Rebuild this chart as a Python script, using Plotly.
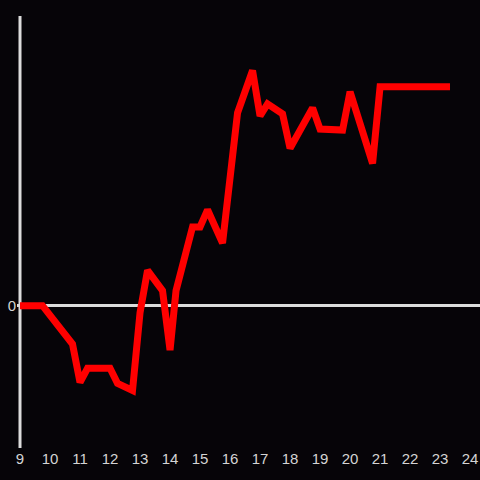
import plotly.graph_objects as go

# time of day (hours) and value
hours = [9.0, 9.75, 10.75, 11.0, 11.25, 12.0, 12.25, 12.75, 13.0, 13.25, 13.75, 14.0,
         14.2, 14.75, 15.0, 15.25, 15.75, 16.25, 16.75, 17.0, 17.25, 17.75, 18.0,
         18.75, 19.0, 19.75, 20.0, 20.75, 21.0, 23.33]
values = [0.0, 0.0, -3.8, -7.6, -6.2, -6.2, -7.7, -8.4, -0.7, 3.5, 1.5, -4.4,
          1.5, 7.8, 7.8, 9.5, 6.2, 19.1, 23.3, 18.8, 20.0, 19.0, 15.6,
          19.6, 17.5, 17.4, 21.2, 14.1, 21.7, 21.7]
x_ticks = list(range(9, 25))

bg = '#060408'
axis_col = '#dcdcdc'

fig = go.Figure()
fig.add_trace(go.Scatter(
    x=hours, y=values, mode='lines',
    line=dict(color='#ff0000', width=7),
    hoverinfo='skip'
))

# vertical axis line at the first hour
fig.add_shape(type='line', xref='x', yref='paper', x0=x_ticks[0], x1=x_ticks[0],
              y0=0, y1=1, line=dict(color=axis_col, width=3), layer='below')

fig.update_layout(
    width=480, height=480,
    margin=dict(l=17, r=0, t=16, b=32),
    paper_bgcolor=bg, plot_bgcolor=bg,
    showlegend=False,
    font=dict(family='Liberation Sans, Arial, sans-serif', size=15, color='#d4d4d4'),
    xaxis=dict(
        range=[8.9, 24.33], tickvals=x_ticks, ticktext=[str(t) for t in x_ticks],
        showgrid=False, zeroline=False, showline=False, ticks='',
        fixedrange=True
    ),
    yaxis=dict(
        range=[-14.1, 28.7], tickvals=[0], ticktext=['0'],
        showgrid=False, zeroline=True, zerolinecolor=axis_col, zerolinewidth=3,
        showline=False, ticks='', ticklabelstandoff=0,
        fixedrange=True
    ),
)

fig.write_html("out.html", config={'displayModeBar': False},
               post_script="document.body.style.margin='0';document.body.style.overflow='hidden';")
